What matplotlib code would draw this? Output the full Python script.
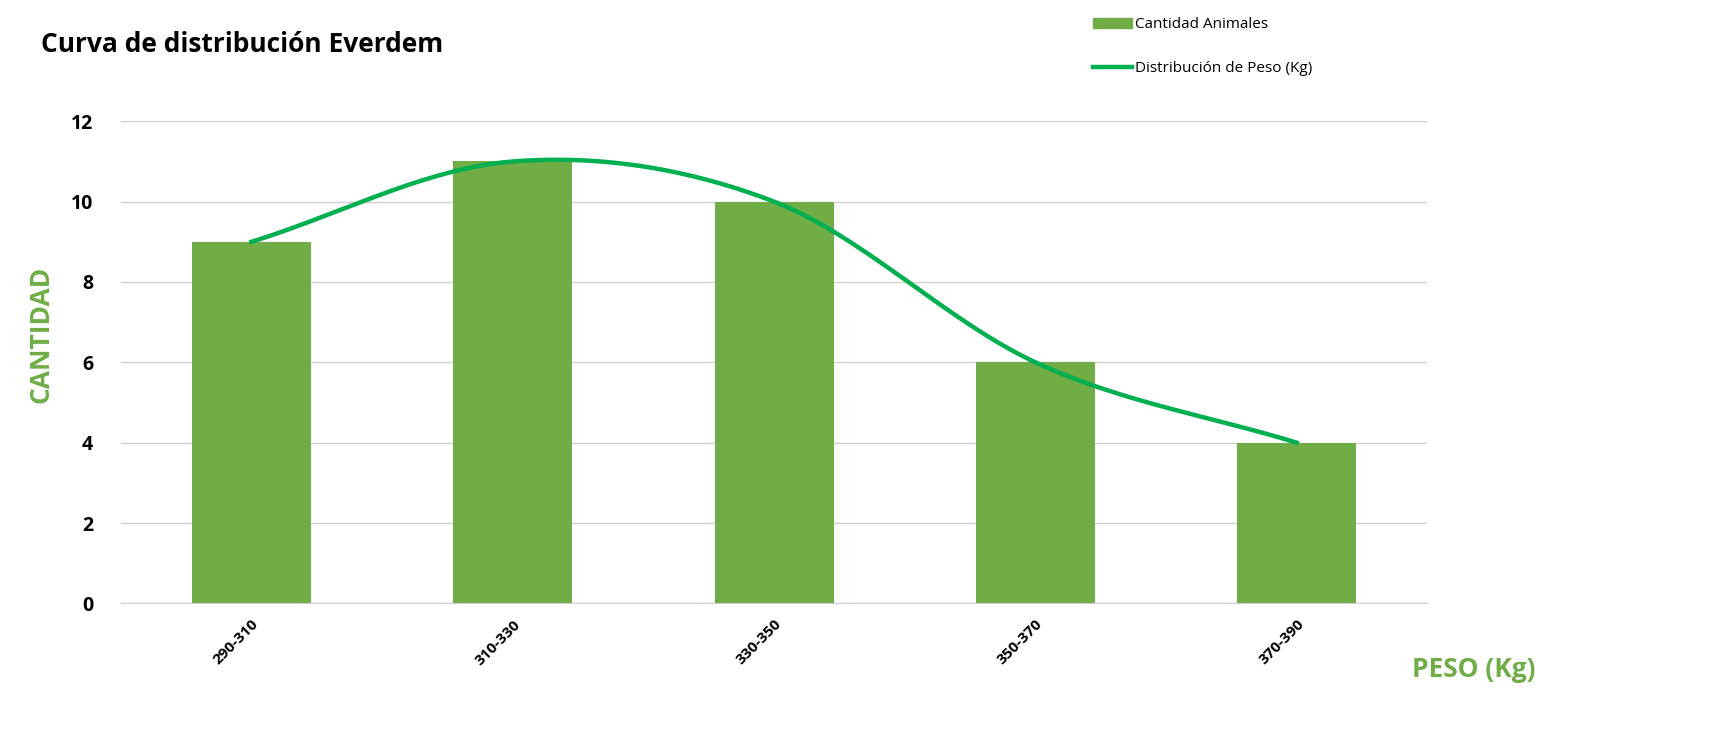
import numpy as np
import matplotlib
matplotlib.use("Agg")
import matplotlib.pyplot as plt
from matplotlib.lines import Line2D
from matplotlib.patches import Patch

categories = ["290-310", "310-330", "330-350", "350-370", "370-390"]
cantidad = [9, 11, 10, 6, 4]

plt.rcParams["font.family"] = "Open Sans"
fig = plt.figure(figsize=(17.26, 7.44), dpi=100)
ax = fig.add_axes([0.070, 0.189, 0.757, 0.648])
x = np.arange(len(categories))
ax.bar(x, cantidad, width=0.455, color="#70AD47", zorder=2)

# Catmull-Rom smoothing (like Excel smoothed line)
P = np.column_stack([x, cantidad]).astype(float)
Pp = np.vstack([P[0] - (P[1] - P[0]), P, P[-1] + (P[-1] - P[-2])])
xs, ys = [], []
for i in range(1, len(Pp) - 2):
    p0, p1, p2, p3 = Pp[i-1], Pp[i], Pp[i+1], Pp[i+2]
    t = np.linspace(0, 1, 50)[:, None]
    pt = 0.5 * ((2*p1) + (-p0+p2)*t + (2*p0-5*p1+4*p2-p3)*t**2 + (-p0+3*p1-3*p2+p3)*t**3)
    xs.extend(pt[:, 0]); ys.extend(pt[:, 1])
ax.plot(xs, ys, color="#00B050", lw=3.2, zorder=3)

ax.set_xlim(-0.5, 4.5)
ax.set_ylim(0, 12)
ax.set_yticks(range(0, 13, 2))
ax.yaxis.grid(True, color="#D0D0D0", lw=1)
ax.set_axisbelow(True)
for s in ["top", "right", "left"]:
    ax.spines[s].set_visible(False)
ax.spines["bottom"].set_color("#D0D0D0")
ax.tick_params(length=0, pad=10)
ax.set_xticks(x)
ax.set_xticklabels(categories, rotation=45, ha="right", rotation_mode="anchor", fontsize=11, fontweight="bold")
for lbl in ax.get_yticklabels():
    lbl.set_fontsize(14); lbl.set_fontweight("bold")
ax.tick_params(axis="y", pad=20)

fig.text(0.024, 0.94, "Curva de distribución Everdem", fontsize=19, fontweight="bold", va="center")
fig.text(0.024, 0.55, "CANTIDAD", color="#70AD47", fontsize=19, fontweight="bold", rotation=90, va="center", ha="center")
fig.text(0.818, 0.10, "PESO (Kg)", color="#70AD47", fontsize=19, fontweight="bold", va="center")

handles = [Patch(color="#70AD47"), Line2D([], [], color="#00B050", lw=3.2)]
fig.legend(handles, ["Cantidad Animales", "Distribución de Peso (Kg)"],
           loc="upper left", bbox_to_anchor=(0.625, 0.995), frameon=False,
           fontsize=11, labelspacing=1.9, handlelength=2.6, handletextpad=0.2)
fig.savefig("out.png", dpi=100)
